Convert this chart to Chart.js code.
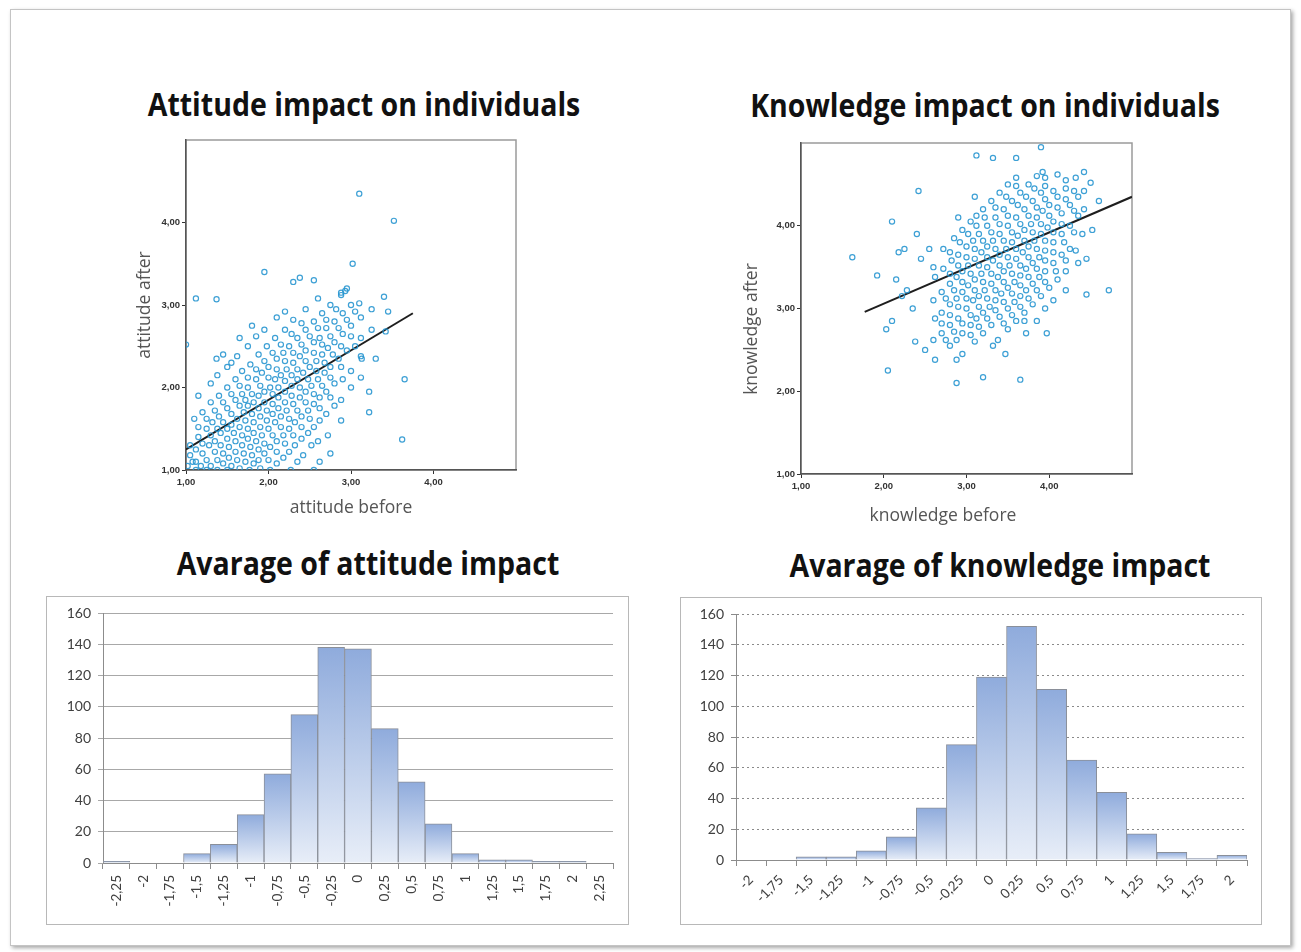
<!DOCTYPE html>
<html>
<head>
<meta charset="utf-8">
<script src="https://cdn.jsdelivr.net/npm/chart.js@4/dist/chart.umd.min.js"></script>
<style>
  body { margin: 0; background: #fff; width: 1301px; height: 952px; position: relative; overflow: hidden; }
  .card { position: absolute; left: 10px; top: 9px; width: 1279px; height: 935px; border: 1px solid #c4c4c4; box-shadow: 2px 2px 4px rgba(0,0,0,0.35); }
  .title { position: absolute; width: 600px; text-align: center; font: bold 28.5px "Open Sans", sans-serif; line-height: 30px; color: #111; transform: scaleY(1.12); }
  .axis { position: absolute; width: 220px; height: 24px; line-height: 24px; text-align: center; font: 17.5px "Open Sans", sans-serif; color: #555; }
  .box { position: absolute; border: 1px solid #b8b8b8; background: #fff; }
  canvas { position: absolute; }
</style>
</head>
<body>
<div class="card"></div>

<div class="title" style="left:64px; top:89px;">Attitude impact on individuals</div>
<div class="title" style="left:685px; top:90px;">Knowledge impact on individuals</div>
<div class="title" style="left:68px; top:548px;">Avarage of attitude impact</div>
<div class="title" style="left:700px; top:550px;">Avarage of knowledge impact</div>

<canvas id="attScatter" width="396" height="388" style="left:130px; top:132px;"></canvas>
<canvas id="knowScatter" width="405" height="393" style="left:737px; top:135px;"></canvas>

<div class="axis" style="left:33px; top:293px; transform: rotate(-90deg);">attitude after</div>
<div class="axis" style="left:241px; top:494px;">attitude before</div>
<div class="axis" style="left:640px; top:317px; transform: rotate(-90deg);">knowledge after</div>
<div class="axis" style="left:833px; top:502px;">knowledge before</div>

<div class="box" style="left:46px; top:596px; width:581px; height:327px;">
  <canvas id="attHist" width="581" height="327" style="left:0; top:0;"></canvas>
</div>
<div class="box" style="left:680px; top:597px; width:580px; height:326px;">
  <canvas id="knowHist" width="580" height="326" style="left:0; top:0;"></canvas>
</div>

<script>
// scatter data: [before, after]
var attitudePoints = [
  [1.02,1.05],[1.08,1.1],[1.12,1.1],[1.2,1.2],[1.28,1.3],[1.35,1.35],[1.42,1.45],[1.5,1.5],[1.55,1.55],[1.62,1.62],
  [1.7,1.7],[1.75,1.78],[1.82,1.82],[1.88,1.9],[1.95,1.95],[2.02,2.0],[2.08,2.1],[2.15,2.15],[2.22,2.22],[2.3,2.3],
  [2.38,2.38],[2.45,2.45],[2.55,2.55],[2.62,2.6],[2.7,2.72],[2.8,2.8],[2.9,2.9],[3.0,3.0],[3.1,3.02],
  [1.05,1.3],[1.15,1.4],[1.25,1.5],[1.32,1.58],[1.4,1.65],[1.5,1.75],[1.6,1.85],[1.68,1.92],[1.75,2.0],[1.85,2.1],
  [1.92,2.18],[2.0,2.25],[2.1,2.35],[2.18,2.42],[2.25,2.5],[2.35,2.6],[2.45,2.7],[2.55,2.8],[2.65,2.9],[2.75,3.0],[2.88,3.12],
  [1.1,1.62],[1.2,1.7],[1.3,1.82],[1.4,1.9],[1.5,2.0],[1.6,2.1],[1.68,2.2],[1.78,2.28],[1.88,2.4],[1.98,2.5],
  [2.08,2.6],[2.2,2.7],[2.3,2.82],[2.45,2.95],[2.6,3.08],[2.95,3.2],
  [1.15,1.9],[1.3,2.05],[1.38,2.15],[1.5,2.25],[1.62,2.38],[1.75,2.5],[1.85,2.62],[1.95,2.7],[2.1,2.85],[2.2,2.92],
  [1.37,2.35],[1.45,2.4],[1.65,2.6],[1.8,2.75],[1.55,2.3],
  [1.0,2.52],[1.12,3.08],[1.37,3.07],[1.95,3.4],[2.3,3.28],[2.38,3.33],[2.55,3.3],[3.02,3.5],[3.1,4.35],[3.52,4.02],[2.88,3.15],[2.93,3.17],
  [1.25,1.0],[1.3,1.05],[1.38,1.12],[1.45,1.2],[1.52,1.28],[1.6,1.35],[1.68,1.42],[1.75,1.5],[1.82,1.58],[1.9,1.65],
  [1.98,1.72],[2.05,1.8],[2.12,1.88],[2.2,1.95],[2.28,2.02],[2.35,2.1],[2.42,2.18],[2.5,2.25],[2.58,2.32],[2.65,2.4],
  [2.72,2.48],[2.8,2.55],[2.9,2.65],[3.0,2.75],[3.12,2.85],[3.25,2.95],[3.4,3.1],[3.45,2.92],
  [1.5,1.0],[1.55,1.05],[1.62,1.12],[1.7,1.2],[1.78,1.28],[1.85,1.35],[1.92,1.42],[2.0,1.5],[2.08,1.58],[2.15,1.65],
  [2.22,1.72],[2.3,1.8],[2.38,1.88],[2.45,1.95],[2.52,2.02],[2.6,2.1],[2.68,2.18],[2.75,2.25],[2.85,2.35],[2.95,2.45],
  [3.05,2.5],[3.12,2.6],[3.25,2.7],[3.42,2.68],[3.12,2.38],[3.13,2.35],
  [1.77,1.0],[1.82,1.08],[1.88,1.12],[1.95,1.2],[2.02,1.28],[2.1,1.35],[2.18,1.42],[2.25,1.5],[2.32,1.58],[2.4,1.65],
  [2.48,1.72],[2.55,1.8],[2.62,1.88],[2.7,1.95],[2.8,2.05],[2.9,2.1],[3.0,2.2],[3.12,2.12],[3.3,2.35],
  [2.02,1.0],[2.1,1.08],[2.18,1.15],[2.25,1.22],[2.32,1.3],[2.4,1.38],[2.48,1.45],[2.55,1.52],[2.62,1.6],[2.7,1.68],
  [2.8,1.78],[2.88,1.85],[3.0,2.0],[2.88,1.6],[3.22,1.95],
  [2.27,1.0],[2.35,1.1],[2.42,1.18],[2.52,1.3],[2.6,1.35],[2.72,1.42],[2.55,1.0],[2.62,1.1],[2.75,1.2],[3.22,1.7],[3.65,2.1],[3.62,1.37],
  [1.05,1.18],[1.12,1.25],[1.2,1.32],[1.3,1.42],[1.38,1.5],[1.45,1.58],[1.55,1.68],[1.65,1.78],[1.72,1.85],[1.8,1.92],
  [1.9,2.02],[2.0,2.12],[2.1,2.22],[2.2,2.32],[2.3,2.42],[2.4,2.52],[2.5,2.62],[2.6,2.72],[2.7,2.82],[2.82,2.95],
  [1.12,1.0],[1.18,1.05],[1.25,1.12],[1.35,1.22],[1.42,1.3],[1.5,1.38],[1.58,1.45],[1.65,1.52],[1.72,1.6],[1.8,1.68],
  [1.88,1.75],[1.95,1.82],[2.05,1.92],[2.12,2.0],[2.2,2.08],[2.28,2.15],[2.35,2.22],[2.45,2.32],[2.55,2.42],[2.65,2.52],
  [2.75,2.62],[2.85,2.72],[2.95,2.82],[3.05,2.92],
  [1.38,1.0],[1.45,1.08],[1.52,1.15],[1.6,1.22],[1.68,1.3],[1.75,1.38],[1.82,1.45],[1.9,1.52],[1.98,1.6],[2.05,1.68],
  [2.12,1.75],[2.2,1.82],[2.28,1.9],[2.38,2.0],[2.48,2.1],[2.58,2.2],[2.68,2.3],[2.78,2.4],[2.88,2.5],[3.0,2.62],
  [1.65,1.02],[1.72,1.1],[1.8,1.18],[1.88,1.25],[1.95,1.32],[2.05,1.42],[2.15,1.52],[2.25,1.62],[2.35,1.72],[2.45,1.82],
  [2.55,1.92],[2.65,2.02],[2.75,2.12],[2.88,2.25],
  [1.15,1.52],[1.25,1.62],[1.35,1.72],[1.45,1.82],[1.55,1.92],[1.65,2.02],[1.75,2.12],[1.85,2.22],[1.95,2.32],[2.05,2.42],
  [2.15,2.52],[2.28,2.65],[2.4,2.78],
  [1.9,1.02],[2.0,1.12],[2.1,1.22],[2.2,1.32],[2.3,1.42],[2.4,1.52],[2.5,1.62],[2.62,1.75],[2.75,1.88]
];
var attitudeFit = [[1.0,1.25],[3.75,2.9]];

var knowledgePoints = [
  [1.62,3.62],[1.92,3.4],[2.05,2.25],[2.03,2.75],[2.1,4.05],[2.1,2.85],[2.42,4.42],[2.4,3.9],[2.5,2.5],[2.38,2.6],
  [2.88,2.1],[2.88,2.38],[3.2,2.17],[3.65,2.14],[3.47,2.45],[3.32,2.55],[3.12,4.85],[3.32,4.82],[3.6,4.82],[3.9,4.95],
  [4.45,3.17],[4.72,3.22],[3.97,2.7],[3.72,2.7],[4.6,4.3],[4.5,4.52],[4.52,3.95],[2.15,3.35],[2.22,3.15],[2.28,3.22],
  [2.35,3.0],[2.45,3.6],[2.55,3.72],[2.6,3.5],[2.18,3.68],[2.25,3.72],
  [2.6,2.62],[2.7,2.7],[2.8,2.8],[2.9,2.88],[3.0,3.0],[3.08,3.1],[3.15,3.15],[3.22,3.22],[3.3,3.3],[3.38,3.38],
  [3.45,3.45],[3.52,3.52],[3.6,3.6],[3.68,3.68],[3.75,3.75],[3.82,3.82],[3.9,3.9],[3.98,3.98],[4.05,4.05],[4.15,4.15],
  [4.25,4.25],[4.35,4.35],[4.42,4.42],
  [2.62,2.88],[2.7,2.95],[2.8,3.05],[2.88,3.12],[2.95,3.2],[3.02,3.28],[3.1,3.35],[3.18,3.42],[3.25,3.5],[3.32,3.58],
  [3.4,3.65],[3.48,3.72],[3.55,3.8],[3.62,3.88],[3.7,3.95],[3.78,4.02],[3.85,4.1],[3.92,4.18],[4.0,4.25],[4.1,4.35],
  [4.2,4.45],[4.32,4.58],[4.42,4.65],
  [2.6,3.1],[2.7,3.2],[2.8,3.3],[2.88,3.38],[2.95,3.45],[3.02,3.52],[3.1,3.6],[3.18,3.68],[3.25,3.75],[3.32,3.82],
  [3.4,3.9],[3.5,4.0],[3.6,4.1],[3.7,4.2],[3.8,4.3],[3.9,4.4],[3.95,4.48],[4.1,4.62],
  [2.62,3.38],[2.72,3.48],[2.82,3.58],[2.9,3.65],[3.0,3.75],[3.08,3.82],[3.15,3.9],[3.25,4.0],[3.35,4.1],[3.45,4.2],
  [3.55,4.3],[3.65,4.4],[3.75,4.5],[3.85,4.6],[3.92,4.65],
  [2.72,3.72],[2.85,3.85],[2.95,3.95],[3.05,4.05],[3.12,4.12],[3.2,4.2],[3.3,4.3],[3.4,4.4],[3.5,4.5],[3.6,4.58],[2.9,4.1],[3.1,4.35],
  [2.62,2.38],[2.8,2.55],[2.88,2.62],[2.95,2.7],[3.05,2.8],[3.12,2.88],[3.2,2.95],[3.28,3.02],[3.35,3.1],[3.42,3.18],
  [3.5,3.25],[3.58,3.32],[3.65,3.4],[3.72,3.48],[3.8,3.55],[3.88,3.62],[3.95,3.7],[4.05,3.8],[4.15,3.9],[4.25,4.0],
  [4.35,4.12],[4.42,4.2],
  [2.95,2.45],[3.1,2.6],[3.2,2.7],[3.3,2.8],[3.4,2.9],[3.5,3.0],[3.58,3.08],[3.65,3.15],[3.72,3.22],[3.8,3.3],
  [3.88,3.38],[3.95,3.45],[4.05,3.55],[4.15,3.65],[4.25,3.72],[4.4,3.9],
  [3.38,2.62],[3.5,2.75],[3.6,2.85],[3.7,2.95],[3.8,3.05],[3.9,3.15],[4.0,3.25],[4.1,3.35],[4.2,3.45],[4.35,3.55],[4.45,3.6],
  [3.85,2.85],[3.95,3.0],[4.05,3.1],[4.2,3.22],[3.7,2.85],
  [2.7,2.82],[2.8,2.92],[2.9,3.02],[3.0,3.12],[3.1,3.22],[3.2,3.32],[3.3,3.42],[3.4,3.52],[3.5,3.62],[3.6,3.72],
  [3.7,3.82],[3.8,3.92],[3.9,4.02],[4.0,4.12],[4.1,4.22],[4.2,4.32],[4.3,4.42],
  [2.75,3.12],[2.85,3.22],[2.95,3.32],[3.05,3.42],[3.15,3.52],[3.25,3.62],[3.35,3.72],[3.45,3.82],[3.55,3.92],[3.65,4.02],
  [3.75,4.12],[3.85,4.22],[3.95,4.32],[4.05,4.42],[4.2,4.55],
  [2.75,2.62],[2.85,2.72],[2.95,2.82],[3.05,2.92],[3.15,3.02],[3.25,3.12],[3.35,3.22],[3.45,3.32],[3.55,3.42],[3.65,3.52],
  [3.75,3.62],[3.85,3.72],[3.95,3.82],[4.05,3.92],[4.15,4.02],[4.3,4.18],
  [3.05,2.68],[3.15,2.78],[3.25,2.88],[3.35,2.98],[3.45,3.08],[3.55,3.18],[3.65,3.28],[3.75,3.38],[3.85,3.48],[3.95,3.58],
  [4.05,3.68],[4.18,3.8],[4.3,3.92],
  [2.8,3.42],[2.9,3.52],[3.0,3.62],[3.1,3.72],[3.2,3.82],[3.3,3.92],[3.4,4.02],[3.5,4.12],[3.62,4.25],[3.72,4.35],
  [3.82,4.45],[3.95,4.58],
  [3.45,2.82],[3.55,2.92],[3.65,3.02],[3.75,3.12],[3.85,3.22],[3.95,3.32],[4.08,3.45],[4.2,3.58],[4.32,3.7],
  [2.8,3.68],[2.92,3.8],[3.02,3.9],[3.12,4.0],[3.22,4.1],[3.35,4.22],[3.48,4.35],[3.6,4.48]
];
var knowledgeFit = [[1.77,2.96],[5.0,4.35]];

var scatterTicks = [1, 2, 3, 4];

// histograms
var attitudeBins = ['-2,25','-2','-1,75','-1,5','-1,25','-1','-0,75','-0,5','-0,25','0','0,25','0,5','0,75','1','1,25','1,5','1,75','2','2,25'];
var attitudeCounts = [1, 0, 0, 6, 12, 31, 57, 95, 138, 137, 86, 52, 25, 6, 2, 2, 1, 1, 0];

var knowledgeBins = ['-2','-1,75','-1,5','-1,25','-1','-0,75','-0,5','-0,25','0','0,25','0,5','0,75','1','1,25','1,5','1,75','2'];
var knowledgeCounts = [0, 0, 2, 2, 6, 15, 34, 75, 119, 152, 111, 65, 44, 17, 5, 1, 3];

var histTicks = [0, 20, 40, 60, 80, 100, 120, 140, 160];

function toXY(list) {
  return list.map(function (p) { return { x: p[0], y: p[1] }; });
}

function comma(v) {
  return v.toFixed(2).replace('.', ',');
}

// grey frame round the plot area of the scatter plots
var frame = {
  id: 'frame',
  beforeDraw: function (chart) {
    var a = chart.chartArea;
    var c = chart.ctx;
    c.save();
    c.strokeStyle = '#9a9a9a';
    c.lineWidth = 1.5;
    c.strokeRect(a.left, a.top, a.right - a.left, a.bottom - a.top);
    c.restore();
  }
};

function scatterChart(id, points, fit, yWidth, xHeight) {
  var ctx = document.getElementById(id).getContext('2d');
  return new Chart(ctx, {
    type: 'scatter',
    data: {
      datasets: [{
        data: toXY(points),
        pointStyle: 'circle',
        pointRadius: 2.6,
        borderWidth: 1.2,
        borderColor: 'rgba(40,150,208,0.9)',
        backgroundColor: 'rgba(0,0,0,0)'
      }, {
        type: 'line',
        data: toXY(fit),
        borderColor: '#1e1e1e',
        borderWidth: 2,
        pointRadius: 0,
        fill: false
      }]
    },
    options: {
      responsive: false,
      animation: false,
      layout: { padding: { top: 8, right: 10 } },
      plugins: { legend: { display: false }, tooltip: { enabled: false } },
      scales: {
        x: {
          type: 'linear', min: 1, max: 5,
          afterBuildTicks: function (s) { s.ticks = scatterTicks.map(function (v) { return { value: v }; }); },
          afterFit: function (s) { s.height = xHeight; },
          ticks: { callback: function (v) { return comma(v); }, font: { size: 9.5, weight: 'bold', family: 'Liberation Sans Narrow, Liberation Sans' }, color: '#333', padding: 3, maxRotation: 0 },
          grid: { drawOnChartArea: false, tickLength: 4, color: '#333' },
          border: { color: '#555', width: 1.5 }
        },
        y: {
          type: 'linear', min: 1, max: 5,
          afterBuildTicks: function (s) { s.ticks = scatterTicks.map(function (v) { return { value: v }; }); },
          afterFit: function (s) { s.width = yWidth; },
          ticks: { callback: function (v) { return comma(v); }, font: { size: 9.5, weight: 'bold', family: 'Liberation Sans Narrow, Liberation Sans' }, color: '#333', padding: 2 },
          grid: { drawOnChartArea: false, tickLength: 4, color: '#333' },
          border: { color: '#555', width: 1.5 }
        }
      }
    },
    plugins: [frame]
  });
}

// Excel style bar: dark blue at the top fading to pale at the base
function barFill(context) {
  var chart = context.chart;
  if (!chart.chartArea || !context.parsed) return 'rgb(170,192,228)';
  var y = chart.scales.y;
  var top = y.getPixelForValue(context.parsed.y);
  var base = y.getPixelForValue(0);
  if (base - top < 1) return 'rgb(200,214,238)';
  var g = chart.ctx.createLinearGradient(0, top, 0, base);
  g.addColorStop(0, 'rgb(143,171,220)');
  g.addColorStop(1, 'rgb(232,238,248)');
  return g;
}

function histChart(id, bins, counts, opts) {
  var ctx = document.getElementById(id).getContext('2d');
  return new Chart(ctx, {
    type: 'bar',
    data: {
      labels: bins,
      datasets: [{
        data: counts,
        backgroundColor: barFill,
        borderColor: '#8a8f99',
        borderWidth: 1,
        barPercentage: 1,
        categoryPercentage: 1
      }]
    },
    options: {
      responsive: false,
      animation: false,
      layout: { padding: { top: 16, right: opts.right } },
      plugins: { legend: { display: false }, tooltip: { enabled: false } },
      scales: {
        x: {
          afterFit: function (s) { s.height = opts.xHeight; },
          ticks: { font: { size: 13.5, family: 'Lato' }, color: '#404040', minRotation: opts.rot, maxRotation: opts.rot, padding: opts.pad, autoSkip: false },
          grid: { offset: true, drawOnChartArea: false, tickLength: 6, color: '#8c8c8c' },
          border: { color: '#8c8c8c' }
        },
        y: {
          min: 0, max: 160,
          afterBuildTicks: function (s) { s.ticks = histTicks.map(function (v) { return { value: v }; }); },
          afterFit: function (s) { s.width = opts.yWidth; },
          ticks: { font: { size: 14, family: 'Lato' }, color: '#404040', padding: 7 },
          grid: { color: opts.gridColor, tickLength: 5 },
          border: { color: '#8c8c8c', dash: opts.dash }
        }
      }
    }
  });
}

scatterChart('attScatter', attitudePoints, attitudeFit, 56, 50);
scatterChart('knowScatter', knowledgePoints, knowledgeFit, 64, 54);

histChart('attHist', attitudeBins, attitudeCounts, { right: 15, xHeight: 61, yWidth: 56, rot: 90, pad: 6, gridColor: '#a8a8a8', dash: [] });
histChart('knowHist', knowledgeBins, knowledgeCounts, { right: 14, xHeight: 64, yWidth: 55, rot: 45, pad: 6, gridColor: '#8a8a8a', dash: [2, 3] });
</script>
</body>
</html>
